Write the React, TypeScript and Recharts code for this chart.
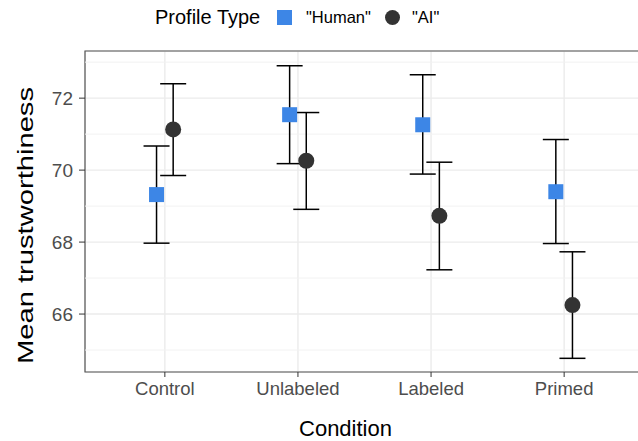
import {
    CartesianGrid,
    ErrorBar,
    ReferenceArea,
    ReferenceLine,
    Scatter,
    ScatterChart,
    XAxis,
    YAxis,
} from "recharts";

/**
 * Mean trustworthiness by condition and profile type (dodged points + 95% CI).
 */
const conditions = ["Control", "Unlabeled", "Labeled", "Primed"];

const humanMean = [69.32, 71.54, 71.26, 69.40];
const humanLow = [67.97, 70.18, 69.89, 67.96];
const humanHigh = [70.67, 72.90, 72.65, 70.85];

const aiMean = [71.13, 70.26, 68.73, 66.25];
const aiLow = [69.85, 68.91, 67.23, 64.77];
const aiHigh = [72.40, 71.60, 70.22, 67.73];

const yTicks = [66, 68, 70, 72];
const yMinorTicks = [65, 67, 69, 71, 73];
const yDomain: [number, number] = [64.39, 73.31];
const xDomain: [number, number] = [0.4, 4.6];

const DODGE = 0.0625;
const FONT = "'Liberation Sans', Arial, Helvetica, sans-serif";
const BLUE = "#3d86e6";
const DARK = "#333333";

const build = (mean: number[], low: number[], high: number[], shift: number) =>
    conditions.map((c, i) => ({
        condition: c,
        x: i + 1 + shift,
        y: mean[i],
        err: [mean[i] - low[i], high[i] - mean[i]],
    }));

const humanData = build(humanMean, humanLow, humanHigh, -DODGE);
const aiData = build(aiMean, aiLow, aiHigh, DODGE);

const SquareShape = (p: any) => (
    <rect x={p.cx - 7.5} y={p.cy - 7.5} width={15} height={15} fill={BLUE}/>
);

const CircleShape = (p: any) => <circle cx={p.cx} cy={p.cy} r={8} fill={DARK}/>;

const LegendBox = () => (
    <div style={{position: "absolute", left: 0, top: 0, width: 638, height: 36, fontFamily: FONT, color: "#000", zIndex: 2}}>
        <span style={{position: "absolute", left: 155, top: 5, fontSize: 20, lineHeight: "24px"}}>Profile Type</span>
        <span style={{position: "absolute", left: 277, top: 10, width: 15, height: 15, background: BLUE}}/>
        <span style={{position: "absolute", left: 306, top: 7, fontSize: 16.5, lineHeight: "20px"}}>"Human"</span>
        <span style={{position: "absolute", left: 385, top: 10, width: 15, height: 15, borderRadius: "50%", background: DARK}}/>
        <span style={{position: "absolute", left: 412, top: 7, fontSize: 16.5, lineHeight: "20px"}}>"AI"</span>
    </div>
);

const YTitle = (props: any) => {
    const cy = props.viewBox.y + props.viewBox.height / 2 + 14;
    return (
        <text
            x={0}
            y={0}
            transform={`translate(33, ${cy}) rotate(-90)`}
            textAnchor="middle"
            fontSize={22}
            fontFamily={FONT}
            fill="#000"
            textLength={277}
            lengthAdjust="spacingAndGlyphs"
        >
            Mean trustworthiness
        </text>
    );
};

function App() {
    return (
        <div style={{position: "absolute", left: 0, top: 0, width: 638, height: 441, overflow: "hidden", background: "#fff"}}>
            <LegendBox/>
            <ScatterChart width={650} height={441} margin={{top: 51, right: 6, bottom: 0, left: 0}}>
                <CartesianGrid stroke="#ebebeb" strokeWidth={1.4}/>
                {yMinorTicks.map((v) => (
                    <ReferenceLine key={v} y={v} stroke="#f2f2f2" strokeWidth={1}/>
                ))}
                <XAxis
                    type="number"
                    dataKey="x"
                    domain={xDomain}
                    ticks={[1, 2, 3, 4]}
                    tickFormatter={(v: number) => conditions[v - 1] ?? ""}
                    allowDataOverflow
                    height={69}
                    tickSize={5}
                    tickMargin={5}
                    axisLine={false}
                    tickLine={{stroke: DARK}}
                    tick={{fontSize: 18.5, fill: "#4d4d4d", fontFamily: FONT}}
                    label={{
                        value: "Condition",
                        position: "insideBottom",
                        offset: 5,
                        dx: -19,
                        style: {fontSize: 22, fill: "#000", fontFamily: FONT},
                    }}
                />
                <YAxis
                    type="number"
                    dataKey="y"
                    domain={yDomain}
                    ticks={yTicks}
                    allowDataOverflow
                    width={85}
                    tickSize={6}
                    tickMargin={6}
                    axisLine={false}
                    tickLine={{stroke: DARK}}
                    tick={{fontSize: 19, fill: "#4d4d4d", fontFamily: FONT}}
                    label={<YTitle/>}
                />
                <ReferenceArea
                    x1={xDomain[0]}
                    x2={xDomain[1]}
                    y1={yDomain[0]}
                    y2={yDomain[1]}
                    fill="none"
                    fillOpacity={0}
                    stroke="#555"
                    strokeWidth={1.2}
                    ifOverflow="visible"
                />
                <Scatter name='"Human"' data={humanData} shape={SquareShape} isAnimationActive={false}>
                    <ErrorBar dataKey="err" direction="y" width={13} stroke="#000" strokeWidth={1.5}/>
                </Scatter>
                <Scatter name='"AI"' data={aiData} shape={CircleShape} isAnimationActive={false}>
                    <ErrorBar dataKey="err" direction="y" width={13} stroke="#000" strokeWidth={1.5}/>
                </Scatter>
            </ScatterChart>
        </div>
    );
}

export default App;
